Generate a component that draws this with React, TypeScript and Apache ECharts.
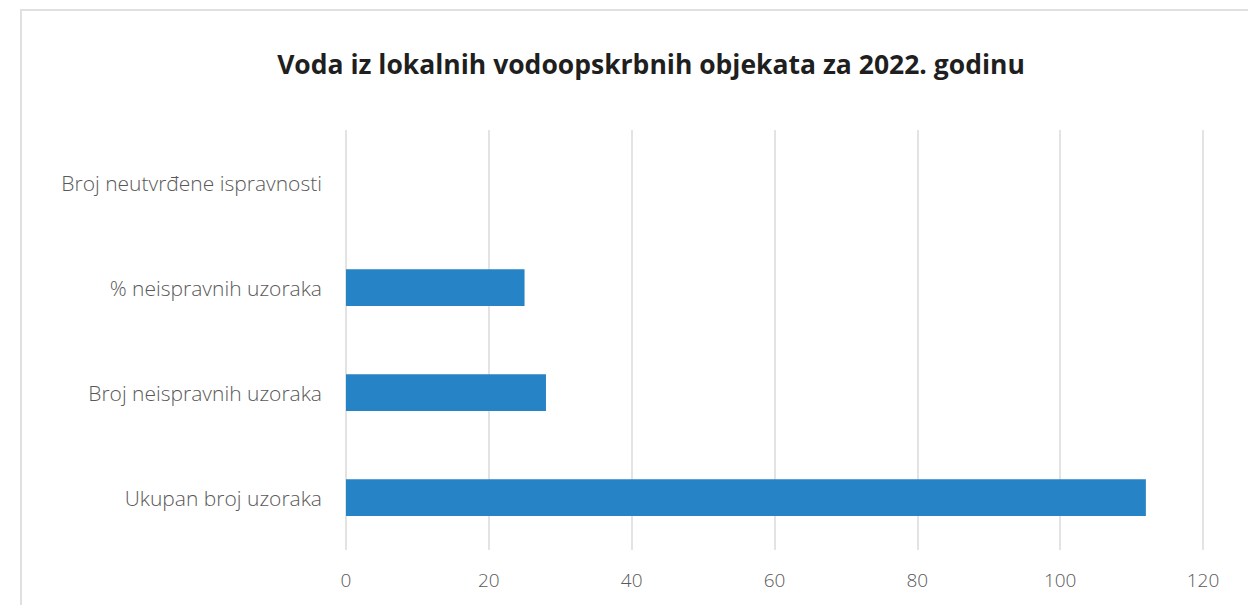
import React, { useEffect, useRef } from "react";
import * as echarts from "echarts";

const categories = [
  "Ukupan broj uzoraka",
  "Broj neispravnih uzoraka",
  "% neispravnih uzoraka",
  "Broj neutvrđene ispravnosti",
];
const values = [112, 28, 25, 0];
const xTicks = { min: 0, max: 120, interval: 20 };
const titleText = "Voda iz lokalnih vodoopskrbnih objekata za 2022. godinu";

export default function App() {
  const ref = useRef<HTMLDivElement>(null);
  useEffect(() => {
    if (!ref.current) return;
    const chart = echarts.init(ref.current, null, { renderer: "svg" });
    chart.setOption({
      animation: false,
      backgroundColor: "#ffffff",
      title: {
        text: titleText,
        left: 646,
        textAlign: "center",
        top: 45,
        textStyle: {
          fontFamily: "Open Sans",
          fontWeight: "bold",
          fontSize: 26.5,
          color: "#1f1f1f",
        },
      },
      graphic: [
        {
          type: "rect",
          shape: { x: 21, y: 10, width: 1240, height: 640 },
          style: { fill: "none", stroke: "#e0e0e0", lineWidth: 2 },
          silent: true,
          z: -1,
        },
      ],
      grid: { left: 346, right: 45, top: 130, bottom: 55, containLabel: false },
      xAxis: {
        type: "value",
        min: xTicks.min,
        max: xTicks.max,
        interval: xTicks.interval,
        axisLine: { show: false },
        axisTick: { show: false },
        splitLine: { show: true, lineStyle: { color: "#e3e3e3", width: 2 } },
        axisLabel: {
          margin: 20,
          fontFamily: "Open Sans",
          fontWeight: 300,
          fontSize: 19,
          color: "#595959",
        },
      },
      yAxis: {
        type: "category",
        data: categories,
        axisLine: { show: false },
        axisTick: { show: false },
        splitLine: { show: false },
        axisLabel: {
          margin: 24,
          fontFamily: "Open Sans",
          fontWeight: 300,
          fontSize: 21,
          color: "#595959",
        },
      },
      series: [
        {
          type: "bar",
          data: values,
          barWidth: "35%",
          itemStyle: { color: "#2683c5" },
        },
      ],
    });
    return () => chart.dispose();
  }, []);
  return (
    <div
      ref={ref}
      style={{ position: "fixed", left: 0, top: 0, width: 1248, height: 605 }}
    />
  );
}
